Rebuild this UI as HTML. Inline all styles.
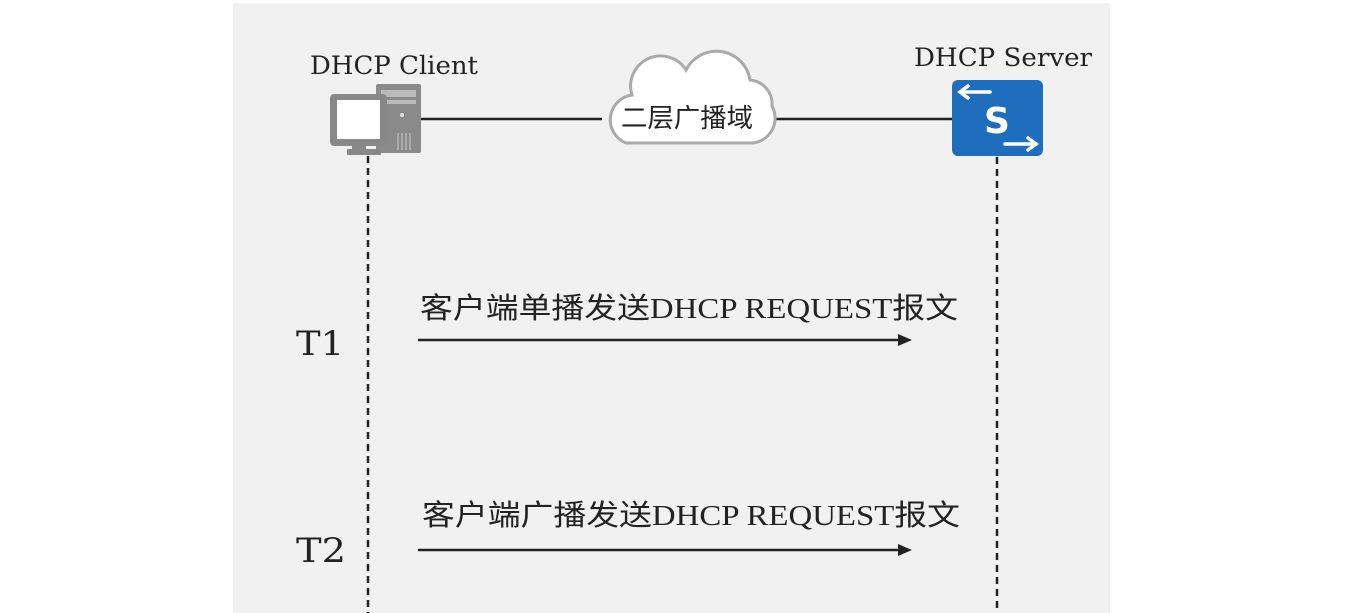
<!DOCTYPE html>
<html><head><meta charset="utf-8"><style>
html,body{margin:0;padding:0;background:#fff;}
svg{display:block}
</style></head><body>
<svg width="1345" height="613" viewBox="0 0 1345 613" xmlns="http://www.w3.org/2000/svg">
<rect x="0" y="0" width="1345" height="613" fill="#fff"/>
<rect x="233" y="3" width="877" height="610" fill="#f1f1f1"/>
<!-- top link lines -->
<line x1="421" y1="119" x2="602" y2="119" stroke="#222" stroke-width="2.5"/>
<line x1="774" y1="119" x2="952" y2="119" stroke="#222" stroke-width="2.5"/>
<!-- cloud -->
<path d="M626,143 L752,143 A25,25 0 0 0 772,106 A24,24 0 0 0 750,80 A34,34 0 0 0 686,70 A30,30 0 0 0 632,95 A25,25 0 0 0 626,143 Z" fill="#fff" stroke="#aaa" stroke-width="3"/>
<text x="687" y="127" font-family="'Noto Sans CJK SC',sans-serif" font-size="26" fill="#222" text-anchor="middle" textLength="132" lengthAdjust="spacingAndGlyphs">二层广播域</text>
<!-- client PC -->
<rect x="376" y="84" width="45" height="69" rx="2" fill="#8a8a8a"/>
<rect x="381" y="90" width="35" height="7" fill="#bbb"/>
<rect x="381" y="100" width="35" height="4" fill="#bbb"/>
<circle cx="402" cy="115" r="2" fill="#ddd"/>
<g stroke="#ccc" stroke-width="1"><line x1="398" y1="133" x2="398" y2="150"/><line x1="402" y1="133" x2="402" y2="150"/><line x1="406" y1="133" x2="406" y2="150"/><line x1="410" y1="133" x2="410" y2="150"/></g>
<rect x="330" y="94" width="57" height="52" rx="4" fill="#888"/>
<rect x="337" y="100" width="43" height="39" fill="#fff"/>
<rect x="352" y="146" width="14" height="4" fill="#888"/>
<rect x="347" y="149" width="34" height="6" rx="1" fill="#888"/>
<!-- switch -->
<rect x="952" y="80" width="91" height="76" rx="6" fill="#1f6dbd"/>
<text x="997" y="133" font-family="'DejaVu Sans','Liberation Sans',sans-serif" font-weight="bold" font-size="36" fill="#fff" text-anchor="middle">S</text>
<g stroke="#fff" stroke-width="3.5" fill="none" stroke-linecap="round"><line x1="960" y1="92" x2="990" y2="92"/><polyline points="968,86 960,92 968,98"/><line x1="1005" y1="144" x2="1036" y2="144"/><polyline points="1028,138 1036,144 1028,150"/></g>
<!-- labels -->
<text x="310" y="74" font-family="'DejaVu Serif','Liberation Serif',serif" font-size="25" fill="#222" textLength="168" lengthAdjust="spacingAndGlyphs">DHCP Client</text>
<text x="914" y="66" font-family="'DejaVu Serif','Liberation Serif',serif" font-size="25" fill="#222" textLength="178" lengthAdjust="spacingAndGlyphs">DHCP Server</text>
<!-- lifelines -->
<line x1="368" y1="156" x2="368" y2="613" stroke="#222" stroke-width="2.5" stroke-dasharray="7,5"/>
<line x1="997" y1="157" x2="997" y2="613" stroke="#222" stroke-width="2.5" stroke-dasharray="7,5"/>
<!-- T1 -->
<text x="296" y="355" font-family="'DejaVu Serif','Liberation Serif',serif" font-size="34" fill="#222" textLength="48" lengthAdjust="spacingAndGlyphs">T1</text>
<text x="420" y="318" font-family="'Liberation Serif','Noto Sans CJK SC',serif" font-size="29" fill="#222" textLength="538" lengthAdjust="spacingAndGlyphs">客户端单播发送DHCP REQUEST报文</text>
<line x1="418" y1="340" x2="900" y2="340" stroke="#222" stroke-width="2.5"/>
<polygon points="912,340 898,334 898,346" fill="#222"/>
<!-- T2 -->
<text x="296" y="562" font-family="'DejaVu Serif','Liberation Serif',serif" font-size="34" fill="#222" textLength="50" lengthAdjust="spacingAndGlyphs">T2</text>
<text x="422" y="525" font-family="'Liberation Serif','Noto Sans CJK SC',serif" font-size="29" fill="#222" textLength="538" lengthAdjust="spacingAndGlyphs">客户端广播发送DHCP REQUEST报文</text>
<line x1="418" y1="550" x2="900" y2="550" stroke="#222" stroke-width="2.5"/>
<polygon points="912,550 898,544 898,556" fill="#222"/>
</svg>
</body></html>
